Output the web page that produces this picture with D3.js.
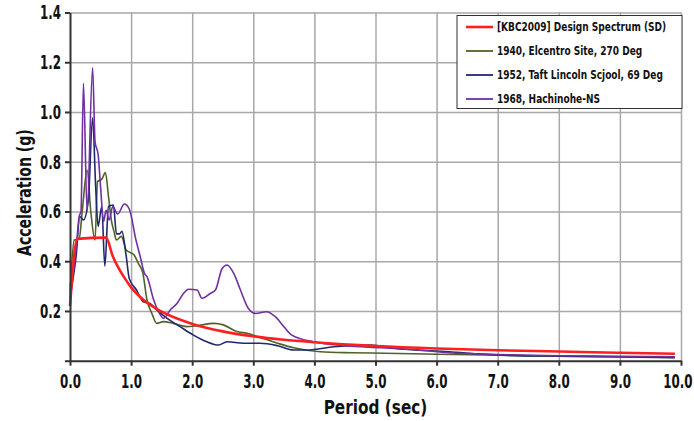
<!DOCTYPE html>
<html>
  <head>
    <meta charset="utf-8">
    <title>Response Spectrum</title>
    <script src="https://cdn.jsdelivr.net/npm/d3@7"></script>
    <style>
      body { margin: 0; background: #fff; }
      svg text { font-family: "DejaVu Sans Condensed", "DejaVu Sans", sans-serif; font-weight: bold; fill: #111; }
      .grid line { stroke: #a8a8a8; stroke-width: 1.5; }
      .grid .domain { display: none; }
      .axis .domain, .axis line { stroke: #333; stroke-width: 2; }
      .axis text { font-size: 20px; }
      .legend text { font-size: 11.5px; }
    </style>
  </head>
  <body>
    <svg id="chart" width="694" height="421"></svg>
  </body>
  <script>
    // design spectrum (KBC2009, SD)
    const designT  = [0, 0.12, 0.59, 0.7, 0.8, 0.9, 1.0, 1.2, 1.5, 2.0, 2.5, 3.0, 3.5, 4.0, 5.0, 6.0, 7.0, 8.0, 9.0, 9.9];
    const designSa = [0.22, 0.49, 0.495, 0.42, 0.37, 0.33, 0.295, 0.245, 0.197, 0.148, 0.118, 0.098, 0.084, 0.074, 0.059, 0.049, 0.042, 0.037, 0.032, 0.028];

    // 1940 El Centro
    const elcentroT  = [0, 0.07, 0.15, 0.2, 0.28, 0.34, 0.41, 0.45, 0.52, 0.58, 0.63, 0.68, 0.72, 0.76, 0.84, 0.92, 1.05, 1.12, 1.19, 1.26, 1.34, 1.42, 1.53, 1.69, 1.91, 2.08, 2.35, 2.51, 2.73, 2.9, 3.11, 3.4, 3.66, 4.1, 4.6, 5.14, 6.0, 7.0, 8.0, 9.0, 9.9];
    const elcentroSa = [0.27, 0.485, 0.49, 0.6, 0.767, 0.6, 0.485, 0.72, 0.73, 0.756, 0.66, 0.56, 0.52, 0.485, 0.5, 0.445, 0.425, 0.39, 0.355, 0.244, 0.19, 0.15, 0.157, 0.15, 0.137, 0.141, 0.15, 0.144, 0.117, 0.11, 0.093, 0.07, 0.052, 0.036, 0.032, 0.03, 0.026, 0.022, 0.018, 0.015, 0.012];

    // 1952 Taft
    const taftT  = [0, 0.05, 0.1, 0.16, 0.22, 0.3, 0.37, 0.42, 0.46, 0.52, 0.57, 0.63, 0.71, 0.76, 0.81, 0.85, 0.92, 0.97, 1.09, 1.2, 1.31, 1.42, 1.59, 1.8, 2.02, 2.24, 2.43, 2.57, 2.84, 3.11, 3.4, 3.66, 3.88, 4.32, 4.92, 5.3, 6.2, 7.0, 8.0, 9.0, 9.9];
    const taftSa = [0.25, 0.33, 0.42, 0.58, 0.566, 0.646, 0.977, 0.7, 0.54, 0.62, 0.38, 0.62, 0.626, 0.51, 0.51, 0.52, 0.42, 0.33, 0.284, 0.237, 0.23, 0.204, 0.17, 0.137, 0.103, 0.076, 0.063, 0.076, 0.07, 0.07, 0.06, 0.043, 0.043, 0.056, 0.063, 0.05, 0.036, 0.023, 0.018, 0.016, 0.013];

    // 1968 Hachinohe
    const hachiT  = [0, 0.05, 0.1, 0.15, 0.18, 0.22, 0.28, 0.37, 0.41, 0.46, 0.5, 0.55, 0.59, 0.64, 0.7, 0.78, 0.89, 0.97, 1.08, 1.15, 1.22, 1.26, 1.37, 1.48, 1.53, 1.64, 1.75, 1.86, 1.94, 2.08, 2.16, 2.3, 2.38, 2.49, 2.57, 2.68, 2.79, 2.92, 3.04, 3.22, 3.36, 3.5, 3.63, 3.99, 4.5, 5.1, 5.7, 6.2, 7.0, 8.0, 9.0, 9.9];
    const hachiSa = [0.3, 0.35, 0.45, 0.58, 0.6, 1.115, 0.6, 1.178, 0.88, 0.83, 0.7, 0.56, 0.605, 0.566, 0.62, 0.59, 0.63, 0.61, 0.485, 0.418, 0.35, 0.338, 0.244, 0.184, 0.17, 0.204, 0.23, 0.271, 0.287, 0.284, 0.251, 0.271, 0.284, 0.371, 0.385, 0.351, 0.284, 0.21, 0.19, 0.197, 0.177, 0.137, 0.103, 0.076, 0.06, 0.052, 0.043, 0.032, 0.025, 0.02, 0.018, 0.016];

    const xTicks = [0, 1, 2, 3, 4, 5, 6, 7, 8, 9, 10];
    const yTicks = [0, 0.2, 0.4, 0.6, 0.8, 1.0, 1.2, 1.4];

    const series = [
      { name: "[KBC2009] Design Spectrum (SD)", t: designT, v: designSa, color: "#ff1f1f", width: 2.6 },
      { name: "1940, Elcentro Site, 270 Deg", t: elcentroT, v: elcentroSa, color: "#4f6228", width: 1.6 },
      { name: "1952, Taft Lincoln Scjool, 69 Deg", t: taftT, v: taftSa, color: "#1c2a6b", width: 1.6 },
      { name: "1968, Hachinohe-NS", t: hachiT, v: hachiSa, color: "#7030a0", width: 1.6 }
    ];

    // the original font is a tall, narrow bold face: squeeze DejaVu horizontally
    function squeeze(sel, f) {
      sel.each(function () {
        const w = this.getComputedTextLength();
        if (w > 0) d3.select(this).attr("textLength", w * f).attr("lengthAdjust", "spacingAndGlyphs");
      });
    }

    const svg = d3.select("#chart");
    const plotL = 70, plotR = 681, plotT = 12.5, plotB = 360.7;

    const x = d3.scaleLinear().domain([0, 10]).range([plotL, plotR]);
    const y = d3.scaleLinear().domain([0, 1.4]).range([plotB, plotT]);

    // grid
    svg.append("g").attr("class", "grid")
      .attr("transform", `translate(0,${plotB})`)
      .call(d3.axisBottom(x).tickValues(xTicks.slice(1)).tickSize(-(plotB - plotT)).tickFormat(""));
    svg.append("g").attr("class", "grid")
      .attr("transform", `translate(${plotL},0)`)
      .call(d3.axisLeft(y).tickValues(yTicks.slice(1)).tickSize(-(plotR - plotL)).tickFormat(""));

    // lines (design spectrum drawn last)
    const line = d3.line().curve(d3.curveMonotoneX);
    const order = [1, 2, 3, 0];
    order.forEach(i => {
      const s = series[i];
      svg.append("path")
        .attr("fill", "none")
        .attr("stroke", s.color)
        .attr("stroke-width", s.width)
        .attr("stroke-linejoin", "round")
        .attr("d", line(s.t.map((t, k) => [x(t), y(s.v[k])])));
    });

    // axes
    const xAxis = svg.append("g").attr("class", "axis")
      .attr("transform", `translate(0,${plotB})`)
      .call(d3.axisBottom(x).tickValues(xTicks).tickSize(5).tickSizeOuter(0).tickPadding(8).tickFormat(d3.format(".1f")));
    const yAxis = svg.append("g").attr("class", "axis")
      .attr("transform", `translate(${plotL},0)`)
      .call(d3.axisLeft(y).tickValues(yTicks).tickSize(5).tickSizeOuter(0).tickPadding(4)
        .tickFormat(d => d === 0 ? "" : d3.format(".1f")(d)));
    squeeze(xAxis.selectAll("text"), 0.66);
    squeeze(yAxis.selectAll("text"), 0.66);
    // keep the last label inside the picture
    xAxis.selectAll(".tick text").filter(d => d === 10)
      .attr("text-anchor", "end").attr("x", 11);

    // axis titles
    svg.append("text")
      .attr("x", (plotL + plotR) / 2).attr("y", 414)
      .attr("text-anchor", "middle").style("font-size", "20px")
      .text("Period (sec)")
      .call(squeeze, 0.85);
    svg.append("text")
      .attr("transform", `translate(31,${(plotT + plotB) / 2 + 6}) rotate(-90)`)
      .attr("text-anchor", "middle").style("font-size", "20px")
      .text("Acceleration (g)")
      .call(squeeze, 0.78);

    // legend
    const lg = svg.append("g").attr("class", "legend");
    lg.append("rect")
      .attr("x", 457).attr("y", 15.5).attr("width", 225).attr("height", 93)
      .attr("fill", "#fff").attr("stroke", "#333").attr("stroke-width", 1);
    series.forEach((s, i) => {
      const yy = 27 + i * 24;
      lg.append("line")
        .attr("x1", 466).attr("x2", 493).attr("y1", yy).attr("y2", yy)
        .attr("stroke", s.color).attr("stroke-width", i === 0 ? 2.6 : 1.8);
      lg.append("text")
        .attr("x", 497).attr("y", yy).attr("dy", "0.36em")
        .text(s.name)
        .call(squeeze, 0.87);
    });
  </script>
</html>
